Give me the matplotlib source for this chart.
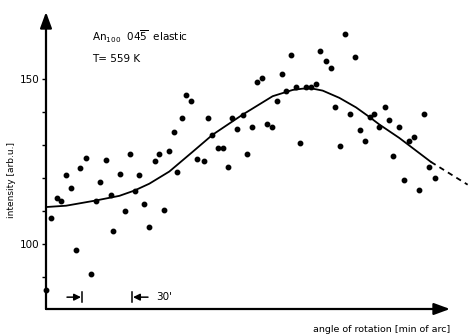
import numpy as np
import matplotlib
matplotlib.use("Agg")
import matplotlib.pyplot as plt

plt.rcParams['font.family'] = ['DejaVu Sans']
plt.rcParams['mathtext.default'] = 'regular'

# measured intensities vs. rotation angle (min of arc)
angle = [0.0, 3.2, 6.4, 9.0, 11.8, 14.8, 18.0, 20.6, 23.8, 26.8,
         29.8, 32.4, 36.0, 38.8, 40.4, 44.2, 47.4, 50.4, 53.4, 56.0,
         58.8, 61.8, 65.2, 68.0, 70.8, 73.6, 76.6, 78.8, 81.4, 84.2,
         87.2, 90.8, 94.6, 97.2, 99.8, 103.4, 106.4, 109.2, 111.6, 114.4,
         118.0, 120.8, 123.8, 126.4, 129.6, 132.4, 135.6, 138.6, 141.4, 144.2,
         147.2, 150.2, 152.6, 155.8, 159.0, 161.7, 164.4, 167.8, 170.8, 173.6,
         176.6, 179.6, 182.4, 185.2, 188.2, 191.2, 194.1, 197.0, 200.0, 203.4,
         206.0, 208.4, 211.8, 215.0, 217.6, 220.6, 223.5, 226.8, 229.6, 233.5]
intensity = [86.0, 107.9, 113.8, 112.9, 121.0, 116.9, 98.0, 123.0, 126.0, 90.8,
             113.1, 118.9, 125.6, 115.0, 103.9, 121.3, 110.1, 127.2, 116.2, 121.0,
             112.0, 105.0, 125.2, 127.2, 110.2, 128.3, 134.1, 122.0, 138.2, 145.3,
             143.3, 125.8, 125.3, 138.3, 133.2, 129.3, 129.3, 123.3, 138.3, 134.8,
             139.3, 127.2, 135.6, 149.3, 150.5, 136.4, 135.5, 143.3, 151.7, 146.6,
             157.4, 147.6, 130.8, 147.6, 147.6, 148.6, 158.6, 155.6, 153.4, 141.5,
             129.8, 163.9, 139.6, 156.7, 134.5, 131.4, 138.6, 139.4, 135.5, 141.5,
             137.7, 126.7, 135.6, 119.4, 131.4, 132.4, 116.3, 139.4, 123.4, 120.0]

# fitted curve (solid part) and its extrapolation (dashed)
fit_x = [0, 12, 30, 44, 53, 62, 74, 88, 100, 110, 118, 136, 148, 154,
         160, 166, 176, 186, 194, 200, 212, 231]
fit_y = [111.2, 111.6, 113.2, 114.6, 116.2, 118.3, 122.0, 128.0, 133.2, 136.6,
         139.3, 144.9, 146.8, 147.2, 147.2, 146.6, 144.4, 141.5, 138.6, 136.3,
         132.2, 124.9]
ext_x = [231, 253]
ext_y = [124.9, 118.0]

fig = plt.figure(figsize=(4.69, 3.36), dpi=100)
ax = fig.add_axes([46 / 469, 27 / 336, 404 / 469, 297 / 336])
ax.set_xlim(0, 242.4)
ax.set_ylim(80.2, 170.5)

ax.plot(angle, intensity, 'o', color='black', markersize=3.2, clip_on=False)
ax.plot(fit_x, fit_y, color='black', lw=1.3, clip_on=False,
        solid_joinstyle='round')
ax.plot(ext_x, ext_y, color='black', lw=1.3, ls=(0, (3, 2.5)), clip_on=False)

for s in ax.spines.values():
    s.set_visible(False)

# axes drawn as arrows
arrow = dict(arrowstyle='-|>,head_length=0.6,head_width=0.22', color='black',
             lw=1.6, shrinkA=0, shrinkB=0, mutation_scale=16)
ax.annotate('', xy=(0, 1), xytext=(0, 0), xycoords='axes fraction',
            arrowprops=arrow, annotation_clip=False)
ax.annotate('', xy=(1, 0), xytext=(0, 0), xycoords='axes fraction',
            arrowprops=arrow, annotation_clip=False)

ax.set_xticks([])
ax.set_yticks([90, 100, 110, 120, 130, 140, 150])
ax.set_yticklabels(['', '100', '', '', '', '', '150'], fontsize=7.5)
ax.tick_params(axis='y', direction='out', length=3, width=1, pad=1.5)

# 30' scale bar
small = dict(arrowstyle='-|>,head_length=0.5,head_width=0.25', color='black',
             lw=1.1, shrinkA=0, shrinkB=0, mutation_scale=8)
ax.annotate('', xy=(21.0, 83.8), xytext=(12.6, 83.8), arrowprops=small)
ax.annotate('', xy=(52.2, 83.8), xytext=(61.2, 83.8), arrowprops=small)
ax.plot([21.6, 21.6], [82.3, 85.3], color='black', lw=1.1)
ax.plot([51.6, 51.6], [82.3, 85.3], color='black', lw=1.1)
ax.text(66.0, 83.8, "30'", fontsize=7.5, va='center', ha='left')

ax.text(27.6, 163.1, r'An$_{100}$  04$\overline{5}$  elastic', fontsize=7.5,
        va='center', ha='left')
ax.text(27.6, 156.1, 'T= 559 K', fontsize=7.5, va='center', ha='left')

fig.text(12 / 469, 1 - 180 / 336, 'intensity [arb.u.]', rotation=90,
         fontsize=6.5, ha='center', va='center')
fig.text(382 / 469, 1 - 329 / 336, 'angle of rotation [min of arc]',
         fontsize=6.8, ha='center', va='center')

fig.savefig('out.png', dpi=100)
